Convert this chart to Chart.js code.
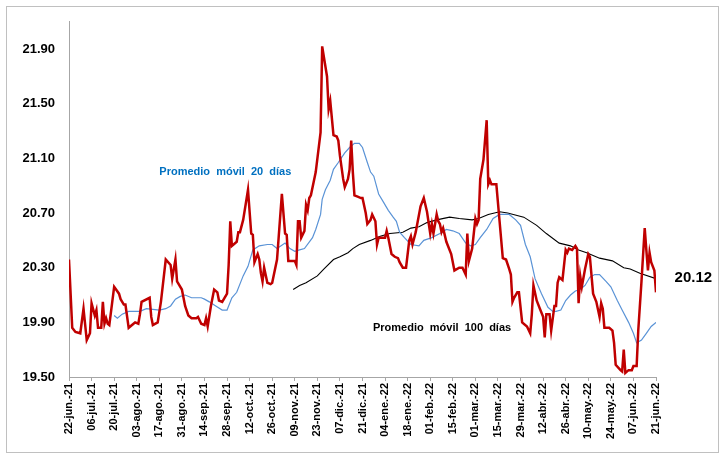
<!DOCTYPE html>
<html>
<head>
<meta charset="utf-8">
<script src="https://cdn.jsdelivr.net/npm/chart.js@4"></script>
<style>
  html, body { margin: 0; padding: 0; background: #fff; }
  #wrap { width: 719px; height: 455px; position: relative; }
</style>
</head>
<body>
<div id="wrap"><canvas id="tipoCambioChart" width="719" height="455"></canvas></div>
<script>
// dias desde 22-jun-21
const diasTC = [0, 2, 4, 7, 9, 11, 13, 14, 16, 17, 18, 20, 21, 22, 23, 24, 25, 28, 31, 32, 34, 35, 37, 40, 41, 43, 44, 45,
  50, 51, 52, 55, 57, 60, 63, 64, 66, 67, 70, 72, 74, 76, 79, 80, 82, 84, 85, 86, 88, 90, 92, 93, 95, 98, 99, 100,
  101, 104, 105, 106, 108, 111, 113, 114, 115, 116, 117, 118, 119, 120, 121, 123, 125, 126, 129, 130, 132, 134, 135,
  136, 140, 141, 142, 143, 144, 146, 147, 148, 149, 150, 153, 156, 157, 160, 161, 162, 164, 166, 167, 168, 170, 171,
  173, 174, 175, 176, 177, 179, 181, 182, 184, 185, 187, 188, 190, 191, 192, 196, 197, 198, 200, 202, 204, 205, 207,
  209, 211, 212, 213, 215, 218, 220, 222, 224, 225, 226, 228, 229, 230, 231, 232, 234, 237, 239, 242, 244, 246, 247,
  248, 250, 252, 253, 254, 255, 257, 259, 260, 261, 262, 265, 267, 269, 271, 273, 274, 275, 276, 278, 279, 281, 284,
  286, 287, 288, 290, 292, 294, 295, 296, 298, 299, 301, 302, 303, 304, 306, 308, 309, 310, 312, 314, 315, 316, 317,
  318, 320, 322, 323, 325, 327, 329, 330, 331, 332, 335, 337, 338, 339, 342, 343, 344, 345, 347, 349, 350, 352, 353,
  355, 357, 358, 359, 360, 361, 363, 364];
const tipoCambio = [20.36, 19.86, 19.83, 19.82, 20.00, 19.77, 19.82, 20.04, 19.95, 19.99, 19.86, 19.86, 20.05, 19.89, 19.93, 19.89, 19.88, 20.16, 20.11, 20.07, 20.03, 20.03, 19.86, 19.89, 19.90, 19.89, 19.96, 20.05,
  20.08, 19.94, 19.88, 19.90, 20.05, 20.36, 20.32, 20.22, 20.36, 20.20, 20.14, 20.02, 19.95, 19.93, 19.93, 19.94, 19.89, 19.88, 19.93, 19.87, 20.02, 20.14, 20.12, 20.06, 20.05, 20.11, 20.32, 20.64,
  20.46, 20.49, 20.56, 20.56, 20.65, 20.87, 20.55, 20.54, 20.34, 20.37, 20.40, 20.36, 20.26, 20.20, 20.30, 20.19, 20.18, 20.19, 20.36, 20.52, 20.84, 20.55, 20.54,
  20.35, 20.35, 20.32, 20.64, 20.64, 20.52, 20.57, 20.76, 20.72, 20.81, 20.83, 21.00, 21.29, 21.92, 21.70, 21.46, 21.52, 21.27, 21.26, 21.23, 21.12, 20.95, 20.89,
  20.95, 21.02, 21.23, 21.00, 20.83, 20.82, 20.81, 20.81, 20.70, 20.62, 20.65, 20.69, 20.64, 20.47, 20.52, 20.52, 20.57, 20.52, 20.40, 20.38, 20.37, 20.34, 20.30,
  20.30, 20.50, 20.53, 20.47, 20.56, 20.75, 20.81, 20.71, 20.55, 20.62, 20.55, 20.69, 20.64, 20.62, 20.56, 20.59, 20.49, 20.40, 20.28, 20.30, 20.30, 20.25, 20.55,
  20.35, 20.44, 20.66, 20.62, 20.65, 20.95, 21.09, 21.38, 20.91, 20.94, 20.91, 20.91, 20.64, 20.37, 20.36, 20.29, 20.25, 20.05, 20.08, 20.12, 20.12, 19.90, 19.87,
  19.82, 19.96, 20.17, 20.06, 20.00, 19.94, 19.79, 19.96, 19.96, 19.84, 20.02, 20.02, 20.19, 20.23, 20.21, 20.43, 20.41, 20.44, 20.43, 20.46, 20.44, 20.04, 20.24,
  20.16, 20.29, 20.40, 20.38, 20.11, 20.05, 19.94, 20.04, 20.00, 19.86, 19.86, 19.84, 19.75, 19.59, 19.55, 19.54, 19.70, 19.53, 19.55, 19.55, 19.58, 19.58, 19.84,
  20.20, 20.59, 20.43, 20.28, 20.41, 20.34, 20.28, 20.12];

const diasPM20 = [28, 30, 33, 37, 44, 48, 56, 60, 63, 66, 69, 72, 76, 82, 84, 87, 91, 95, 98, 101, 104, 108, 111, 114, 118,
  123, 126, 129, 134, 137, 140, 143, 146, 151, 153, 156, 157, 159, 162, 164, 167, 171, 174, 177, 180, 182, 185, 187, 189,
  192, 195, 198, 201, 203, 205, 208, 212, 217, 220, 225, 230, 234, 238, 242, 246, 249, 252, 255, 259, 263, 267, 273, 277,
  280, 283, 286, 289, 293, 297, 300, 302, 305, 308, 311, 314, 317, 320, 323, 326, 329, 333, 336, 340, 343, 347, 350, 352,
  355, 358, 361, 364];
const promedio20 = [19.95, 19.93, 19.96, 19.98, 19.98, 20.00, 19.99, 20.00, 20.02, 20.07, 20.09, 20.10, 20.08, 20.08, 20.07, 20.05, 20.02, 19.99, 19.99, 20.08, 20.12, 20.24, 20.31, 20.43, 20.46,
  20.47, 20.47, 20.44, 20.48, 20.44, 20.42, 20.43, 20.44, 20.52, 20.58, 20.69, 20.80, 20.87, 20.94, 21.02, 21.07, 21.14, 21.18, 21.21, 21.21, 21.18, 21.07, 21.00, 20.97,
  20.84, 20.78, 20.72, 20.67, 20.64, 20.56, 20.52, 20.47, 20.46, 20.50, 20.52, 20.55, 20.58, 20.57, 20.55, 20.48, 20.46, 20.47, 20.52, 20.58, 20.66, 20.69, 20.69, 20.65,
  20.61, 20.47, 20.38, 20.22, 20.11, 20.01, 19.98, 19.98, 19.99, 20.06, 20.10, 20.13, 20.14, 20.17, 20.23, 20.25, 20.25, 20.20, 20.16, 20.06, 19.99, 19.90, 19.82, 19.75,
  19.77, 19.82, 19.87, 19.90];

const diasPM100 = [139, 143, 147, 154, 158, 164, 168, 173, 176, 180, 187, 193, 199, 207, 212, 217, 222, 228, 236, 242, 250,
  254, 260, 267, 272, 282, 290, 296, 304, 311, 316, 321, 329, 337, 344, 348, 354, 364];
const promedio100 = [20.14, 20.17, 20.19, 20.24, 20.29, 20.36, 20.38, 20.41, 20.44, 20.47, 20.50, 20.53, 20.55, 20.56, 20.59, 20.60, 20.63, 20.65, 20.67, 20.66, 20.65,
  20.66, 20.69, 20.71, 20.70, 20.67, 20.61, 20.55, 20.48, 20.46, 20.43, 20.41, 20.37, 20.35, 20.30, 20.29, 20.26, 20.22];

const tickDias = [0, 14, 28, 42, 56, 70, 84, 98, 112, 126, 140, 154, 168, 182, 196, 210, 224, 238, 252, 266, 280, 294, 308, 322, 336, 350, 364];
const tickEtiquetas = ['22-jun.-21', '06-jul.-21', '20-jul.-21', '03-ago.-21', '17-ago.-21', '31-ago.-21', '14-sep.-21',
  '28-sep.-21', '12-oct.-21', '26-oct.-21', '09-nov.-21', '23-nov.-21', '07-dic.-21', '21-dic.-21', '04-ene.-22',
  '18-ene.-22', '01-feb.-22', '15-feb.-22', '01-mar.-22', '15-mar.-22', '29-mar.-22', '12-abr.-22', '26-abr.-22',
  '10-may.-22', '24-may.-22', '07-jun.-22', '21-jun.-22'];
const yTicks = [19.5, 19.9, 20.3, 20.7, 21.1, 21.5, 21.9];

const ultimoValor = tipoCambio[tipoCambio.length - 1];

const toPoints = (xs, ys) => xs.map((x, i) => ({ x: x, y: ys[i] }));

// textos sobre la grafica, posicion en unidades de datos
const notas = [
  { text: 'Promedio  móvil  20  días', x: 56, y: 21.0, color: '#0070c0', font: 'bold 11px Arial, "Liberation Sans"' },
  { text: 'Promedio  móvil  100  días', x: 188.5, y: 19.86, color: '#000', font: 'bold 11px Arial, "Liberation Sans"' },
  { text: ultimoValor.toFixed(2), x: 375.5, y: 20.225, color: '#000', font: 'bold 15px Arial, "Liberation Sans"' }
];

const notasPlugin = {
  id: 'notas',
  beforeDraw(chart) {
    const ctx = chart.ctx;
    ctx.save();
    ctx.strokeStyle = '#c0c0c0';
    ctx.lineWidth = 1;
    ctx.strokeRect(6.5, 6.5, 712, 446);
    ctx.restore();
  },
  afterDraw(chart) {
    const ctx = chart.ctx;
    const xs = chart.scales.x, ys = chart.scales.y;
    ctx.save();
    ctx.textAlign = 'left';
    ctx.textBaseline = 'middle';
    notas.forEach(n => {
      ctx.font = n.font;
      ctx.fillStyle = n.color;
      ctx.fillText(n.text, xs.getPixelForValue(n.x), ys.getPixelForValue(n.y));
    });
    ctx.restore();
  }
};

new Chart(document.getElementById('tipoCambioChart'), {
  type: 'line',
  data: {
    datasets: [
      {
        label: 'Tipo de cambio',
        data: toPoints(diasTC, tipoCambio),
        borderColor: '#c00000',
        borderWidth: 2.5,
        pointRadius: 0,
        tension: 0
      },
      {
        label: 'Promedio móvil 20 días',
        data: toPoints(diasPM20, promedio20),
        borderColor: '#5a93d6',
        borderWidth: 1.2,
        pointRadius: 0,
        tension: 0
      },
      {
        label: 'Promedio móvil 100 días',
        data: toPoints(diasPM100, promedio100),
        borderColor: '#000000',
        borderWidth: 1.1,
        pointRadius: 0,
        tension: 0
      }
    ]
  },
  options: {
    responsive: false,
    animation: false,
    events: [],
    layout: { padding: { top: 17, right: 63, left: 0, bottom: 0 } },
    plugins: { legend: { display: false }, tooltip: { enabled: false } },
    scales: {
      x: {
        type: 'linear',
        min: 0,
        max: 364,
        afterBuildTicks: s => { s.ticks = tickDias.map(v => ({ value: v })); },
        afterFit: s => { s.height = 78; },
        grid: { display: true, drawOnChartArea: false, drawTicks: true, tickLength: 4, color: '#a6a6a6' },
        border: { display: true, color: '#a6a6a6', width: 1 },
        ticks: {
          minRotation: 90,
          maxRotation: 90,
          autoSkip: false,
          padding: 2,
          color: '#000',
          font: { family: 'Arial, "Liberation Sans"', size: 11, weight: 'bold' },
          callback: v => tickEtiquetas[tickDias.indexOf(v)]
        }
      },
      y: {
        type: 'linear',
        min: 19.5,
        max: 22.1,
        afterBuildTicks: s => { s.ticks = yTicks.map(v => ({ value: v })); },
        afterFit: s => { s.width = 69; },
        grid: { display: false, drawTicks: false },
        border: { display: true, color: '#a6a6a6', width: 1 },
        ticks: {
          padding: 14,
          color: '#000',
          font: { family: 'Arial, "Liberation Sans"', size: 13, weight: 'bold' },
          callback: v => v.toFixed(2)
        }
      }
    }
  },
  plugins: [notasPlugin]
});
</script>
</body>
</html>
